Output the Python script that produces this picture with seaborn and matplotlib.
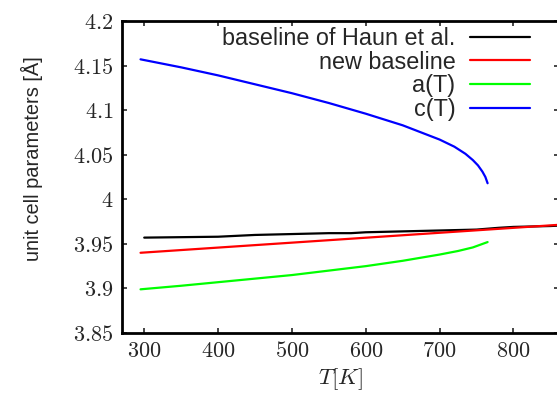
import numpy as np
import pandas as pd
import matplotlib
matplotlib.use('Agg')
import matplotlib.pyplot as plt
import matplotlib.ticker as mticker
import seaborn as sns

# values
T_haun = [300, 350, 400, 450, 500, 550, 580, 600, 650, 700, 750, 780, 800, 850, 900]
v_haun = [3.957, 3.9575, 3.958, 3.960, 3.961, 3.962, 3.962, 3.963, 3.964, 3.965,
          3.966, 3.968, 3.969, 3.970, 3.972]

T_new = [295, 900]
v_new = [3.940, 3.9735]

T_a = [295, 350, 400, 450, 500, 550, 600, 650, 700, 725, 745, 765]
v_a = [3.899, 3.903, 3.907, 3.911, 3.915, 3.920, 3.925, 3.931, 3.938, 3.942, 3.946, 3.952]

T_c = [295, 350, 400, 450, 500, 550, 600, 650, 700, 720, 735, 745, 752, 758, 762, 765]
v_c = [4.157, 4.148, 4.139, 4.129, 4.119, 4.108, 4.096, 4.083, 4.067, 4.059, 4.051,
       4.044, 4.038, 4.031, 4.025, 4.018]

series_names = ['baseline of Haun et al.', 'new baseline', 'a(T)', 'c(T)']
series_colors = ['#000000', '#ff0000', '#00ff00', '#0000ff']

x_ticks = [300, 400, 500, 600, 700, 800]
x_tick_labels = ['300', '400', '500', '600', '700', '800']
y_ticks = [3.85, 3.9, 3.95, 4.0, 4.05, 4.1, 4.15, 4.2]
y_tick_labels = ['3.85', '3.9', '3.95', '4', '4.05', '4.1', '4.15', '4.2']

frames = []
for name, tt, vv in zip(series_names, [T_haun, T_new, T_a, T_c], [v_haun, v_new, v_a, v_c]):
    frames.append(pd.DataFrame({'T': tt, 'value': vv, 'series': name}))
df = pd.concat(frames, ignore_index=True)

sns.set_theme(style='ticks')
plt.rcParams['font.family'] = ['Liberation Sans', 'DejaVu Sans']
plt.rcParams['mathtext.fontset'] = 'cm'

txt = '#262626'

fig = plt.figure(figsize=(5.57, 4.0), dpi=100)
ax = fig.add_axes([0.2185, 0.1675, 0.7855, 0.78])

sns.lineplot(data=df, x='T', y='value', hue='series', hue_order=series_names,
             palette=dict(zip(series_names, series_colors)), sort=False,
             estimator=None, linewidth=1.6, ax=ax)

ax.set_xlim(269.5, 862)
ax.set_ylim(3.85, 4.2)

ax.xaxis.set_major_locator(mticker.FixedLocator(x_ticks))
ax.xaxis.set_major_formatter(mticker.FixedFormatter(['$%s$' % s for s in x_tick_labels]))
ax.yaxis.set_major_locator(mticker.FixedLocator(y_ticks))
ax.yaxis.set_major_formatter(mticker.FixedFormatter(['$%s$' % s for s in y_tick_labels]))

ax.tick_params(direction='in', length=3.6, width=1.2, top=True, right=True,
               labelsize=16, labelcolor=txt, pad=6)
for sp in ax.spines.values():
    sp.set_visible(True)
    sp.set_linewidth(2.0)
    sp.set_color('black')

ax.set_xlabel('$T[K]$', fontsize=16.5, color=txt)
ax.set_ylabel('unit cell parameters [Å]', fontsize=14.4, color=txt)
ax.yaxis.set_label_coords(-0.179, 0.558)
ax.xaxis.labelpad = 3

ax.legend(loc='upper right', bbox_to_anchor=(0.947, 1.0), frameon=False,
          markerfirst=False, fontsize=16.8, labelcolor=txt, handlelength=2.57,
          handletextpad=0.64, labelspacing=0.03, borderpad=0.25, borderaxespad=0.0)

fig.savefig('out.png', dpi=100)
